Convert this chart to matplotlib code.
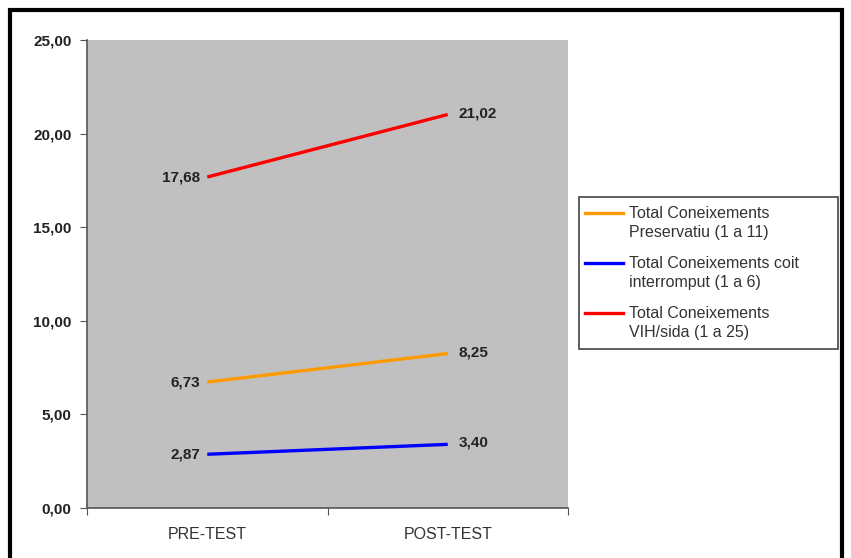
import matplotlib
matplotlib.use("Agg")
import matplotlib.pyplot as plt
from matplotlib.patches import Rectangle
from matplotlib.lines import Line2D

categories = ["PRE-TEST", "POST-TEST"]
preservatiu = [6.73, 8.25]
coit = [2.87, 3.40]
vih = [17.68, 21.02]
series_labels = ["Total Coneixements\nPreservatiu (1 a 11)",
                 "Total Coneixements coit\ninterromput (1 a 6)",
                 "Total Coneixements\nVIH/sida (1 a 25)"]
colors = ["#FF9900", "#0000FF", "#FF0000"]
yticks = [0, 5, 10, 15, 20, 25]

plt.rcParams['font.family'] = ['Liberation Sans', 'DejaVu Sans']

W, H = 851, 558
fig = plt.figure(figsize=(W / 100, H / 100), dpi=100)
L, R, T, B = 87, 568, 40, 508
ax = fig.add_axes([L / W, 1 - B / H, (R - L) / W, (B - T) / H])
ax.set_facecolor("#C0C0C0")

x = list(range(len(categories)))
for vals, lab, c in zip([preservatiu, coit, vih], series_labels, colors):
    ax.plot(x, vals, color=c, lw=2.4, label=lab, solid_capstyle='butt')
    ax.annotate(f"{vals[0]:.2f}".replace(".", ","), (x[0], vals[0]),
                xytext=(-5, 0), textcoords="offset points", ha="right", va="center",
                fontsize=11, fontweight="bold", color="#222222")
    ax.annotate(f"{vals[1]:.2f}".replace(".", ","), (x[1], vals[1]),
                xytext=(8, 1), textcoords="offset points", ha="left", va="center",
                fontsize=11, fontweight="bold", color="#222222")

ax.set_xlim(-0.5, 1.5)
ax.set_ylim(0, 25)
ax.set_yticks(yticks)
ax.set_yticklabels([f"{v:.2f}".replace(".", ",") for v in yticks],
                   fontsize=11, fontweight="bold", color="#222222")
ax.set_xticks([-0.5, 0.5, 1.5])
ax.set_xticklabels([])
ax.set_xticks(x, minor=True)
ax.set_xticklabels(categories, minor=True, fontsize=11.5, color="#333333")
ax.tick_params(axis="x", which="minor", length=0, pad=14)
ax.tick_params(axis="x", which="major", length=5, direction="out", color="#555555")
ax.tick_params(axis="y", length=5, direction="out", color="#555555", pad=6)
for s in ["top", "right"]:
    ax.spines[s].set_visible(False)
for s in ["left", "bottom"]:
    ax.spines[s].set_color("#555555")
    ax.spines[s].set_linewidth(1.2)

# legend drawn in figure pixel coordinates (handle aligned with first text line)
def fx(px):
    return px / W

def fy(py):
    return 1 - py / H

fig.patches.append(Rectangle((fx(579), fy(349)), (838 - 579) / W, (349 - 197) / H,
                             transform=fig.transFigure, fill=True, facecolor="white",
                             edgecolor="#444444", lw=1.2))
entry_y = [213, 263, 313]
for lab, c, ey in zip(series_labels, colors, entry_y):
    fig.add_artist(Line2D([fx(585), fx(623)], [fy(ey), fy(ey)], color=c, lw=2.4,
                          transform=fig.transFigure))
    for i, line in enumerate(lab.split("\n")):
        fig.text(fx(629), fy(ey + i * 20), line, ha="left", va="center",
                 fontsize=11.5, color="#333333")

fig.patches.append(Rectangle((10 / W, -0.05), (842 - 10) / W, 1.05 - 10 / H,
                             transform=fig.transFigure, fill=False,
                             edgecolor="black", lw=3, clip_on=False))

fig.savefig("out.png", dpi=100)
